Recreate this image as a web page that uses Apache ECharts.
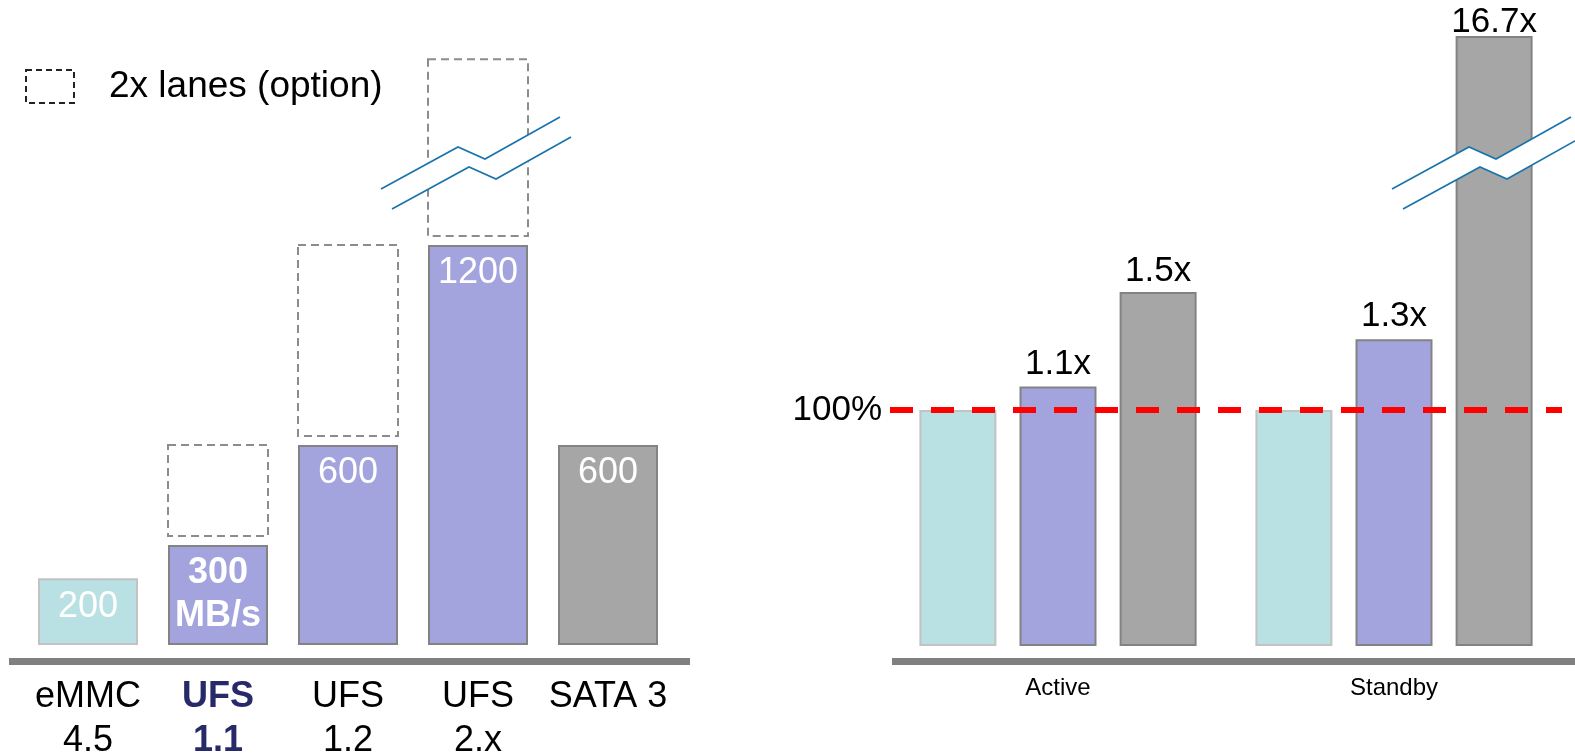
<!DOCTYPE html>
<html>
<head>
<meta charset="utf-8">
<script src="https://cdn.jsdelivr.net/npm/echarts@6/dist/echarts.min.js"></script>
<style>
html,body{margin:0;padding:0;background:#fff;overflow:hidden;}
#main{width:1575px;height:753px;}
</style>
</head>
<body>
<div id="main"></div>
<script>
// ---------- data ----------
const leftCategories = ['eMMC\n4.5', 'UFS\n1.1', 'UFS\n1.2', 'UFS\n2.x', 'SATA 3'];
const leftSpeeds = [200, 300, 600, 1200, 600];              // MB/s
const leftLaneExtra = [null, 300, 600, 1200, null];         // extra with 2x lanes (option)
const leftBarLabels = ['200', '300\nMB/s', '600', '1200', '600'];
const legendName = '2x lanes (option)';

const rightCategories = ['Active', 'Standby'];
const emmcPower = [1.0, 1.0];
const ufsPower = [1.1, 1.3];
const sataPower = [1.5, 16.7];
const refLevel = 1.0;
const refLabel = '100%';

// ---------- styles ----------
const FONT = '"Liberation Sans", Arial, Helvetica, sans-serif';
const TEAL = '#b9e0e3', TEAL_B = '#c2c2c2';
const PURPLE = '#a3a3de', PURPLE_B = '#838383';
const GRAY = '#a6a6a6', GRAY_B = '#838383';
const HILITE = 'UFS\n1.1';
const NAVY = '#272968';
const LEFT_MAX = 1760, RIGHT_MAX = 2.58;

function kindColor(name) {
  if (name.indexOf('eMMC') === 0) return [TEAL, TEAL_B];
  if (name.indexOf('UFS') === 0) return [PURPLE, PURPLE_B];
  return [GRAY, GRAY_B];
}

const chart = echarts.init(document.getElementById('main'), null, {renderer: 'canvas'});

const leftBarData = leftSpeeds.map((v, i) => {
  const c = kindColor(leftCategories[i]);
  return {value: v, itemStyle: {color: c[0], borderColor: c[1], borderWidth: 2}};
});
const laneData = [];
leftLaneExtra.forEach((e, i) => { if (e != null) laneData.push([i, leftSpeeds[i], e]); });

// bars that run past the broken axis get their label tucked closer
const sataData = sataPower.map(v => v > RIGHT_MAX ? {value: v, label: {distance: -4}} : v);

function breakMark(dx) {
  const up = [[381, 189], [458, 147], [485, 159], [560, 117]].map(p => [p[0] + dx, p[1]]);
  const lo = up.map(p => [p[0] + 11, p[1] + 20]);
  return [
    {type: 'polygon', z: 100, shape: {points: up.concat(lo.slice().reverse())}, style: {fill: '#ffffff'}},
    {type: 'polyline', z: 101, shape: {points: up}, style: {stroke: '#1b73ad', lineWidth: 1.6, fill: null}},
    {type: 'polyline', z: 101, shape: {points: lo}, style: {stroke: '#1b73ad', lineWidth: 1.6, fill: null}}
  ];
}

const option = {
  backgroundColor: '#ffffff',
  animation: false,
  textStyle: {fontFamily: FONT},
  legend: {
    show: true,
    left: 25, top: 68, padding: 0,
    itemWidth: 48, itemHeight: 33,
    data: [{
      name: legendName, icon: 'rect',
      itemStyle: {color: 'rgba(0,0,0,0)', borderColor: '#222', borderWidth: 2, borderType: [6, 4]}
    }],
    textStyle: {fontFamily: FONT, fontSize: 37, color: '#000', padding: [2, 0, 0, 30]},
    selectedMode: false
  },
  grid: [
    {left: 23, width: 650, top: 58.33, bottom: 108, outerBoundsMode: 'none', containLabel: false},
    {left: 890, width: 672, top: 37.1, bottom: 107, outerBoundsMode: 'none', containLabel: false}
  ],
  xAxis: [
    {
      type: 'category', gridIndex: 0, data: leftCategories,
      axisLine: {show: false}, axisTick: {show: false},
      axisLabel: {
        interval: 0, hideOverlap: false,
        margin: 30, fontSize: 36, lineHeight: 44, color: '#000', fontFamily: FONT,
        formatter: (v) => v === HILITE ? v.split('\n').map(s => '{b|' + s + '}').join('\n') : v,
        rich: {b: {fontSize: 36, lineHeight: 44, fontWeight: 'bold', color: NAVY, fontFamily: FONT}}
      }
    },
    {
      type: 'category', gridIndex: 1, data: rightCategories,
      axisLine: {show: false}, axisTick: {show: false},
      axisLabel: {interval: 0, margin: 30, fontSize: 24, color: '#000', fontFamily: FONT}
    }
  ],
  yAxis: [
    {type: 'value', gridIndex: 0, min: 0, max: LEFT_MAX, show: false, splitLine: {show: false}},
    {type: 'value', gridIndex: 1, min: 0, max: RIGHT_MAX, show: false, splitLine: {show: false}}
  ],
  series: [
    {
      type: 'bar', xAxisIndex: 0, yAxisIndex: 0, barWidth: 100,
      data: leftBarData,
      label: {
        show: true, position: 'insideTop', distance: 7,
        fontSize: 36, lineHeight: 43, color: '#fff', fontFamily: FONT,
        formatter: (p) => {
          const t = leftBarLabels[p.dataIndex];
          if (leftCategories[p.dataIndex] === HILITE) return t.split('\n').map(s => '{b|' + s + '}').join('\n');
          return t;
        },
        rich: {b: {fontSize: 36, lineHeight: 43, fontWeight: 'bold', color: '#fff', fontFamily: FONT}}
      }
    },
    {
      type: 'custom', name: legendName, xAxisIndex: 0, yAxisIndex: 0,
      encode: {x: 0, y: [1, 2]},
      data: laneData,
      itemStyle: {color: 'rgba(0,0,0,0)', borderColor: '#222'},
      renderItem: (params, api) => {
        const idx = api.value(0), base = api.value(1), extra = api.value(2);
        const b = api.coord([idx, base]);
        const t = api.coord([idx, base + extra]);
        const cs = params.coordSys;
        const w = 100;
        const yTop = Math.max(t[1], cs.y + 1);
        const yBot = b[1] - 9;
        return {
          type: 'rect',
          shape: {x: b[0] - w / 2, y: yTop, width: w, height: yBot - yTop},
          style: {fill: null, stroke: '#8c8c8c', lineWidth: 2, lineDash: [8, 5]}
        };
      }
    },
    {
      type: 'bar', name: 'eMMC', xAxisIndex: 1, yAxisIndex: 1, barWidth: 77, barGap: '30%',
      data: emmcPower,
      itemStyle: {color: TEAL, borderColor: TEAL_B, borderWidth: 2},
      markLine: {
        silent: true, symbol: ['none', 'none'],
        lineStyle: {color: '#ff0000', width: 6, type: [23, 18]},
        label: {show: true, position: 'start', formatter: refLabel, fontSize: 35, color: '#000', fontFamily: FONT, distance: 8},
        data: [{yAxis: refLevel}],
        z: 10
      },
      z: 2
    },
    {
      type: 'bar', name: 'UFS', xAxisIndex: 1, yAxisIndex: 1, barWidth: 77, barGap: '30%',
      data: ufsPower,
      itemStyle: {color: PURPLE, borderColor: PURPLE_B, borderWidth: 2},
      label: {show: true, position: 'top', distance: 5, fontSize: 35, color: '#000', fontFamily: FONT,
        formatter: (p) => p.value.toFixed(1) + 'x'},
      z: 2
    },
    {
      type: 'bar', name: 'SATA', xAxisIndex: 1, yAxisIndex: 1, barWidth: 77, barGap: '30%',
      data: sataData, clip: true,
      itemStyle: {color: GRAY, borderColor: GRAY_B, borderWidth: 2},
      label: {show: true, position: 'top', distance: 3, fontSize: 35, color: '#000', fontFamily: FONT,
        formatter: (p) => p.value.toFixed(1) + 'x'},
      z: 2
    }
  ],
  graphic: [
    {type: 'line', z: 50, shape: {x1: 9, y1: 661.5, x2: 690, y2: 661.5}, style: {stroke: '#808080', lineWidth: 7}},
    {type: 'line', z: 50, shape: {x1: 892, y1: 661.5, x2: 1575, y2: 661.5}, style: {stroke: '#808080', lineWidth: 7}}
  ].concat(breakMark(0)).concat(breakMark(1011))
};

chart.setOption(option);
</script>
</body>
</html>
